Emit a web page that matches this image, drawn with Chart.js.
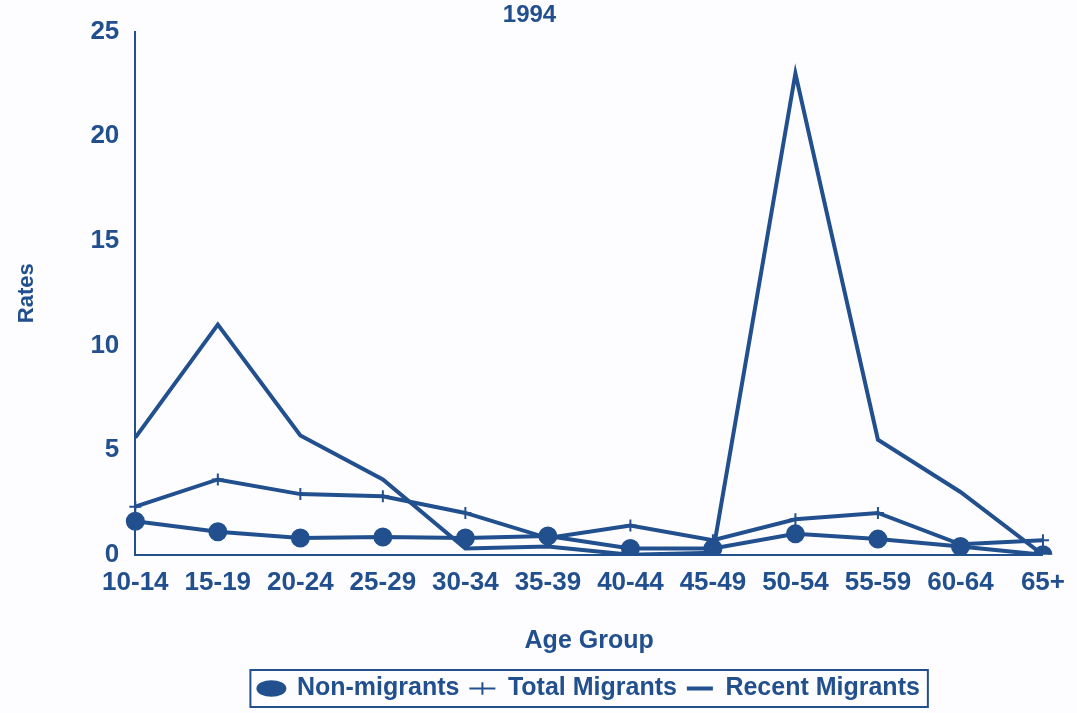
<!DOCTYPE html>
<html>
<head>
<meta charset="utf-8">
<script src="https://cdn.jsdelivr.net/npm/chart.js@4.4.0/dist/chart.umd.min.js"></script>
<style>
  html, body { margin: 0; padding: 0; background: #fdfdff; }
  #wrap { width: 1077px; height: 713px; }
</style>
</head>
<body>
<div id="wrap"><canvas id="myChart" width="1077" height="713"></canvas></div>
<script>
  var ageGroups = ['10-14', '15-19', '20-24', '25-29', '30-34', '35-39', '40-44', '45-49', '50-54', '55-59', '60-64', '65+'];
  var nonMigrants = [1.6, 1.1, 0.8, 0.85, 0.8, 0.9, 0.3, 0.3, 1.0, 0.75, 0.4, 0.0];
  var totalMigrants = [2.3, 3.6, 2.9, 2.8, 2.0, 0.8, 1.4, 0.7, 1.7, 2.0, 0.5, 0.7];
  var recentMigrants = [5.6, 11.0, 5.7, 3.6, 0.3, 0.4, 0.0, 0.1, 23.0, 5.5, 3.0, 0.0];
  var yTicks = [0, 5, 10, 15, 20, 25];

  var blue = '#22508e';
  Chart.defaults.font.family = '"Liberation Sans", Arial, sans-serif';
  Chart.defaults.color = blue;

  // box round the legend, like the printed one
  var legendBox = {
    id: 'legendBox',
    afterDraw: function (chart) {
      var boxes = chart.legend.legendHitBoxes;
      if (!boxes || !boxes.length) return;
      var left = Math.min.apply(null, boxes.map(function (b) { return b.left; }));
      var right = Math.max.apply(null, boxes.map(function (b) { return b.left + b.width; }));
      var top = Math.min.apply(null, boxes.map(function (b) { return b.top; }));
      var bottom = Math.max.apply(null, boxes.map(function (b) { return b.top + b.height; }));
      var ctx = chart.ctx;
      ctx.save();
      ctx.strokeStyle = blue;
      ctx.lineWidth = 2;
      ctx.strokeRect(left - 8, top - 6, right - left + 16, bottom - top + 12);
      ctx.restore();
    }
  };

  var ctx = document.getElementById('myChart').getContext('2d');
  var myChart = new Chart(ctx, {
      type: 'line',
      data: {
          labels: ageGroups,
          datasets: [{
              label: 'Non-migrants',
              data: nonMigrants,
              borderColor: blue,
              backgroundColor: blue,
              borderWidth: 4,
              pointStyle: 'circle',
              pointRadius: 7.5,
              tension: 0
          }, {
              label: 'Total Migrants',
              data: totalMigrants,
              borderColor: blue,
              backgroundColor: blue,
              borderWidth: 4,
              pointStyle: 'cross',
              pointRadius: 6,
              pointBorderWidth: 2,
              tension: 0
          }, {
              label: 'Recent Migrants',
              data: recentMigrants,
              borderColor: blue,
              backgroundColor: blue,
              borderWidth: 4,
              pointStyle: 'line',
              pointRadius: 0,
              tension: 0
          }]
      },
      options: {
          responsive: false,
          animation: false,
          layout: { padding: { left: 10, right: 28, top: 0, bottom: 2 } },
          plugins: {
              title: {
                  display: true,
                  text: '1994',
                  font: { size: 24, weight: 'bold' },
                  padding: { top: 0, bottom: 2 }
              },
              legend: {
                  position: 'bottom',
                  fullSize: false,
                  labels: {
                      usePointStyle: true,
                      pointStyleWidth: 26,
                      boxHeight: 9,
                      padding: 10,
                      font: { size: 25, weight: 'bold' },
                      color: blue
                  }
              },
              tooltip: { enabled: false }
          },
          scales: {
              x: {
                  grid: { display: false, drawTicks: false },
                  border: { color: blue, width: 2 },
                  ticks: { font: { size: 26, weight: 'bold' }, padding: 12, maxRotation: 0, autoSkip: false },
                  title: { display: true, text: 'Age Group', font: { size: 25, weight: 'bold' }, padding: { top: 16, bottom: 10 } }
              },
              y: {
                  min: 0,
                  max: 25,
                  afterBuildTicks: function (axis) {
                      axis.ticks = yTicks.map(function (v) { return { value: v }; });
                  },
                  grid: { display: false, drawTicks: false },
                  border: { color: blue, width: 2 },
                  ticks: { font: { size: 26, weight: 'bold' }, padding: 16 },
                  title: { display: true, text: 'Rates', font: { size: 22, weight: 'bold' }, padding: { bottom: 34 } }
              }
          }
      },
      plugins: [legendBox]
  });
</script>
</body>
</html>
